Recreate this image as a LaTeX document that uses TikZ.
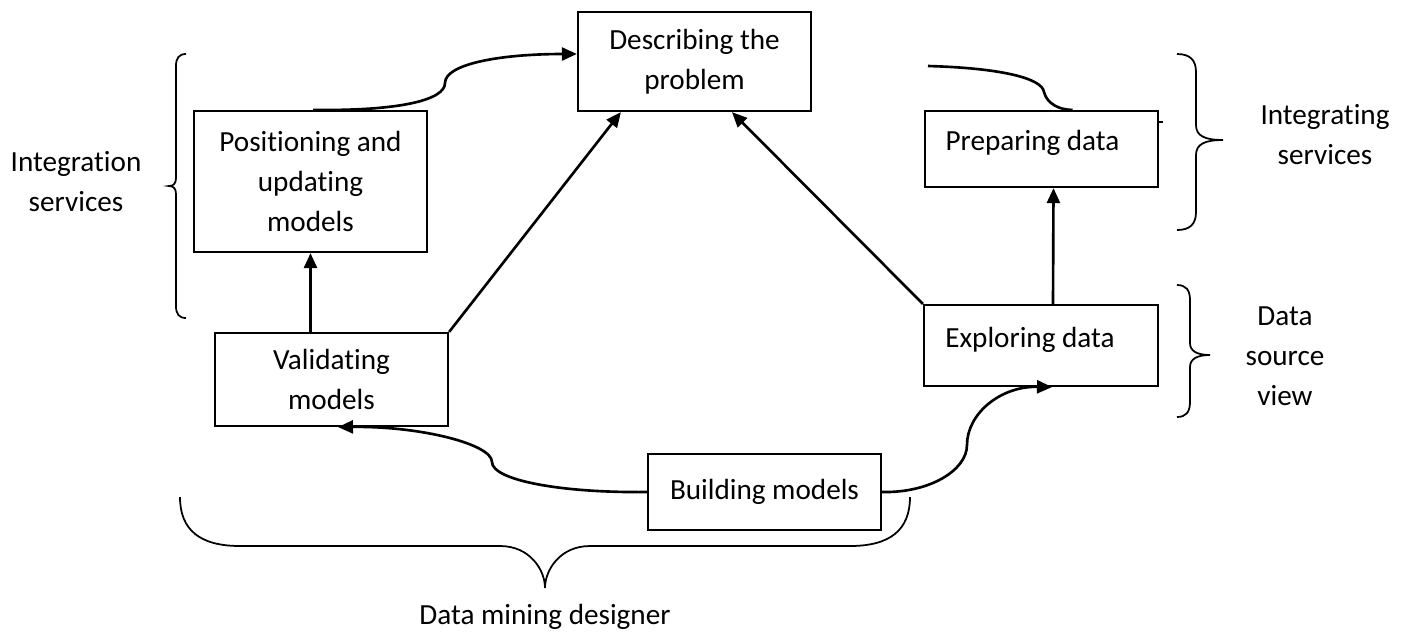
\documentclass[tikz,border=0pt]{standalone}
\usepackage{fontspec}
\setmainfont{Carlito}[RawFeature={-liga;-clig;-calt;-dlig}]
\usetikzlibrary{arrows.meta}

\begin{document}
\begin{tikzpicture}[x=0.01cm, y=-0.01cm,
        every node/.style={font=\fontsize{8.3}{11.4}\selectfont},
        stage/.style={draw, line width=0.6pt, minimum width=2.33cm, inner sep=0pt, align=center},
        flow/.style={line width=0.75pt, -{Triangle[length=0.15cm, width=0.13cm]}},
        bracket/.style={line width=0.5pt}]
        % the units are set so one unit is one pixel of the original drawing,
        % and y goes downwards (so the numbers can be read straight off the image)
        \useasboundingbox (0,0) rectangle (1408,632);

        % the six boxes of the cycle
        % (in the two right boxes the text sits a bit to the left and up,
        % the hspace and the text depth push it there)
        \node[stage, minimum height=0.99cm] (desc) at (694.5,61.5) {Describing the\\problem};
        \node[stage, minimum height=1.41cm] (posit) at (310.5,181.5) {Positioning and\\updating\\models};
        \node[stage, minimum height=0.76cm, text depth=0.17cm] (prep) at (1041.5,149) {Preparing data\hspace*{0.18cm}};
        \node[stage, minimum height=0.93cm] (valid) at (331.5,379.5) {Validating\\models};
        \node[stage, minimum height=0.81cm, minimum width=2.34cm, text depth=0.17cm] (explor) at (1041,345.5) {Exploring data\hspace*{0.22cm}};
        \node[stage, minimum height=0.76cm] (build) at (764.5,492) {Building models};

        % the straight arrows
        \draw[flow] (valid.north -| posit.south) -- (posit.south);
        \draw[flow] (valid.north east) -- ([xshift=0.44cm]desc.south west);
        \draw[flow] (explor.north west) -- ([xshift=1.55cm]desc.south west);
        \draw[flow] ([xshift=0.12cm]explor.north) -- ([xshift=0.12cm]prep.south);

        % the curved ones have a little kink in the middle, so I draw them
        % as two curves put together
        \draw[flow] ([xshift=0.025cm]posit.north) .. controls (400,111) and (445,100) .. (445,83)
            .. controls (445,64) and (500,54) .. ([yshift=0.075cm]desc.west);
        \draw[flow] (build.west) .. controls (560,493) and (492,480) .. (492,462)
            .. controls (492,444) and (420,426) .. ([xshift=0.065cm]valid.south);
        \draw[flow] (build.east) .. controls (930,493) and (967,470) .. (967,445)
            .. controls (967,414) and (1000,386) .. ([xshift=0.11cm]explor.south);

        % this one has a loose end and no arrow tip
        \coordinate (loose) at (928,66);
        \draw[line width=0.75pt] (loose) .. controls (1000,68) and (1042,78) .. (1044,92)
            .. controls (1047,104) and (1060,110) .. ([xshift=0.31cm]prep.north);
        \draw[line width=0.4pt] ([yshift=0.27cm]prep.east) -- ++(4,0);

        % the braces are drawn by hand, the brace decoration makes the ends too long
        \draw[bracket] (186,54) .. controls (179,54) and (176,58) .. (176,66) -- (176,178)
            .. controls (176,184) and (173,186) .. (169,186) .. controls (173,186) and (176,188) .. (176,194)
            -- (176,306) .. controls (176,314) and (179,318) .. (186,318);
        \draw[bracket] (1177,54) .. controls (1190,54) and (1196,60) .. (1196,72) -- (1196,125)
            .. controls (1196,136) and (1205,140) .. (1223,140) .. controls (1205,140) and (1196,144) .. (1196,155)
            -- (1196,212) .. controls (1196,224) and (1190,230) .. (1177,230);
        \draw[bracket] (1177,285) .. controls (1186,285) and (1190,290) .. (1190,300) -- (1190,343)
            .. controls (1190,351) and (1197,355) .. (1210,355) .. controls (1197,355) and (1190,359) .. (1190,367)
            -- (1190,402) .. controls (1190,412) and (1186,417) .. (1177,417);
        \draw[bracket] (180,497) .. controls (180,530) and (200,546) .. (240,546) -- (500,546)
            .. controls (530,546) and (545,570) .. (545,588) .. controls (545,570) and (560,546) .. (590,546)
            -- (850,546) .. controls (890,546) and (910,530) .. (910,497);

        % what the braces stand for
        \node[align=center] (intl) at (76,182) {Integration\\services};
        \node[align=center] (intr) at (1325,135) {Integrating\\services};
        \node[align=center] (dsv) at (1285,356) {Data\\source\\view};
        \node (dmd) at (545,617) {Data mining designer};
    \end{tikzpicture}
\end{document}
